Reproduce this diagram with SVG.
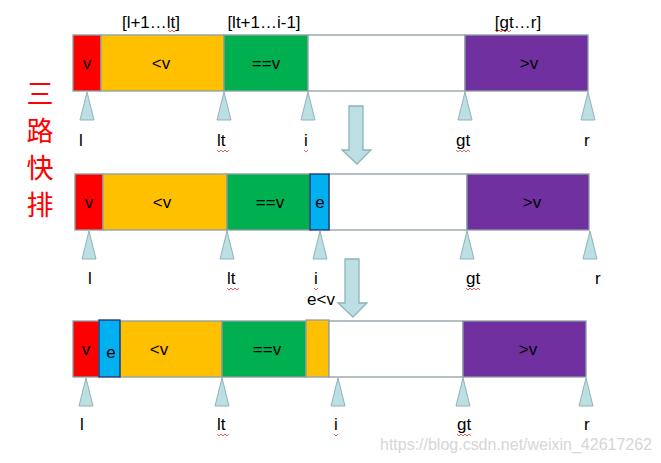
<svg xmlns="http://www.w3.org/2000/svg" width="661" height="463" viewBox="0 0 661 463">
<style>
.t{font-family:"Liberation Sans",Arial,sans-serif;font-size:17px;fill:#000}
.m{text-anchor:middle}
.cell{stroke:#8c9fa3;stroke-width:1.3}
.red{fill:#ff0000}.org{fill:#ffc000}.grn{fill:#00b050}.wht{fill:#ffffff}.pur{fill:#7030a0}
.blu{fill:#00b0f0;stroke:#1f2f6e;stroke-width:1.3}
.tri{fill:#bbdfe2;stroke:#8fb3b8;stroke-width:1}
.arr{fill:#bbdfe2;stroke:#8fb3b8;stroke-width:1.3}
.sq{fill:none;stroke:#e23a3a;stroke-width:0.8}
.cjk{font-family:"Noto Sans CJK SC",sans-serif;font-size:27px;fill:#ff0000;text-anchor:middle}
.wm{font-family:"Liberation Sans",Arial,sans-serif;font-size:16px;fill:#d6d6d6}
</style>
<defs>
<polygon id="ptr" class="tri" points="0,0 7,28 -7,28"/>
</defs>

<g id="title">
<text class="cjk" x="40" y="104">三</text>
<text class="cjk" x="40" y="141">路</text>
<text class="cjk" x="40" y="178">快</text>
<text class="cjk" x="40" y="215">排</text>
</g>

<!-- Row 1 -->
<g id="row1">
<g id="r1-v"><rect class="cell red" x="73" y="35" width="28" height="56"/><text class="t m" x="87" y="69">v</text></g>
<g id="r1-lt"><rect class="cell org" x="101" y="35" width="123" height="56"/><text class="t m" x="161" y="69">&lt;v</text></g>
<g id="r1-eq"><rect class="cell grn" x="224" y="35" width="84" height="56"/><text class="t m" x="266" y="69">==v</text></g>
<g id="r1-un"><rect class="cell wht" x="308" y="35" width="157" height="56"/></g>
<g id="r1-gt"><rect class="cell pur" x="465" y="35" width="123" height="56"/><text class="t m" x="529" y="69">&gt;v</text></g>
<g id="r1-ranges">
<text class="t m" x="151" y="28">[l+1…lt]</text>
<text class="t m" x="264" y="28">[lt+1…i-1]</text>
<text class="t m" x="518" y="28">[gt…r]</text>
</g>
<g id="r1-ptrs">
<use href="#ptr" x="87" y="92"/><use href="#ptr" x="224" y="92"/><use href="#ptr" x="308" y="92"/><use href="#ptr" x="465" y="92"/><use href="#ptr" x="588" y="92"/>
<text class="t" x="79" y="146">l</text>
<text class="t" x="217" y="146">lt</text>
<text class="t" x="304" y="146">i</text>
<text class="t" x="456" y="146">gt</text>
<text class="t" x="584" y="146">r</text>
</g>
</g>

<!-- Row 2 -->
<g id="row2">
<g id="r2-v"><rect class="cell red" x="75" y="174" width="28" height="56"/><text class="t m" x="89" y="208">v</text></g>
<g id="r2-lt"><rect class="cell org" x="103" y="174" width="124" height="56"/><text class="t m" x="162" y="208">&lt;v</text></g>
<g id="r2-eq"><rect class="cell grn" x="227" y="174" width="83" height="56"/><text class="t m" x="270" y="208">==v</text></g>
<g id="r2-un"><rect class="cell wht" x="329" y="174" width="138" height="56"/></g>
<g id="r2-gt"><rect class="cell pur" x="467" y="174" width="122" height="56"/><text class="t m" x="532" y="208">&gt;v</text></g>
<g id="r2-e"><rect class="blu" x="310" y="174" width="19" height="56"/><text class="t m" x="320" y="208">e</text></g>
<g id="r2-ptrs">
<use href="#ptr" x="89" y="231"/><use href="#ptr" x="227" y="231"/><use href="#ptr" x="320" y="231"/><use href="#ptr" x="467" y="231"/><use href="#ptr" x="590" y="231"/>
<text class="t" x="88" y="284">l</text>
<text class="t" x="227" y="284">lt</text>
<text class="t" x="314" y="284">i</text>
<text class="t" x="466" y="284">gt</text>
<text class="t" x="595" y="284">r</text>
</g>
</g>

<!-- Row 3 -->
<g id="row3">
<g id="r3-v"><rect class="cell red" x="73" y="321" width="26" height="56"/><text class="t m" x="86" y="355">v</text></g>
<g id="r3-lt"><rect class="cell org" x="120" y="321" width="102" height="56"/><text class="t m" x="159" y="355">&lt;v</text></g>
<g id="r3-eq"><rect class="cell grn" x="222" y="321" width="84" height="56"/><text class="t m" x="267" y="355">==v</text></g>
<g id="r3-sw"><rect class="cell org" x="306" y="320" width="23" height="57"/></g>
<g id="r3-un"><rect class="cell wht" x="329" y="321" width="134" height="56"/></g>
<g id="r3-gt"><rect class="cell pur" x="463" y="321" width="123" height="56"/><text class="t m" x="528" y="355">&gt;v</text></g>
<g id="r3-e"><rect class="blu" x="99" y="320" width="21" height="57"/><text class="t m" x="111" y="358">e</text></g>
<g id="r3-ptrs">
<use href="#ptr" x="86" y="378"/><use href="#ptr" x="222" y="378"/><use href="#ptr" x="338" y="378"/><use href="#ptr" x="463" y="378"/><use href="#ptr" x="586" y="378"/>
<text class="t" x="80" y="430">l</text>
<text class="t" x="217" y="430">lt</text>
<text class="t" x="334" y="430">i</text>
<text class="t" x="457" y="430">gt</text>
<text class="t" x="584" y="430">r</text>
</g>
</g>

<g id="squiggles">
<path class="sq" d="M217,150 l2,2 l2,-2 l2,2 l2,-2 l2,2 l2,-2"/>
<path class="sq" d="M456,150 l2,2 l2,-2 l2,2 l2,-2 l2,2 l2,-2 l2,2"/>
<path class="sq" d="M304,150 l2,2 l2,-2"/>
<path class="sq" d="M495,30 l2,2 l2,-2 l2,2 l2,-2 l2,2 l2,-2 l2,2 l2,-2"/>
<path class="sq" d="M497,30 l0,0"/>
<path class="sq" d="M227,288 l2,2 l2,-2 l2,2 l2,-2 l2,2 l2,-2"/>
<path class="sq" d="M466,288 l2,2 l2,-2 l2,2 l2,-2 l2,2 l2,-2 l2,2"/>
<path class="sq" d="M314,288 l2,2 l2,-2"/>
<path class="sq" d="M217,434 l2,2 l2,-2 l2,2 l2,-2 l2,2 l2,-2"/>
<path class="sq" d="M457,434 l2,2 l2,-2 l2,2 l2,-2 l2,2 l2,-2 l2,2"/>
<path class="sq" d="M334,434 l2,2 l2,-2"/>
<path class="sq" d="M168,30 l2,2 l2,-2 l2,2 l2,-2"/>
</g>

<g id="connectors">
<polygon class="arr" points="349,106 363,106 363,150 371,150 357,164 342,150 349,150"/>
<polygon class="arr" points="345,259 359,259 359,303 367,303 353,317 338,303 345,303"/>
<text class="t" x="307" y="305">e&lt;v</text>
</g>

<text class="wm" x="380" y="450" textLength="272">https://blog.csdn.net/weixin_42617262</text>
</svg>
